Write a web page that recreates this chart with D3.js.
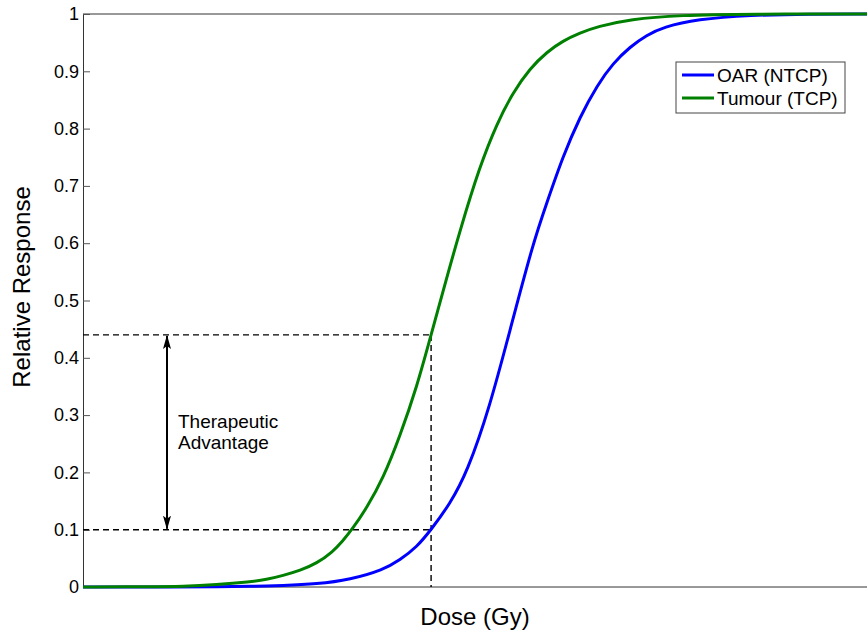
<!DOCTYPE html>
<html>
<head>
<meta charset="utf-8">
<script src="https://cdn.jsdelivr.net/npm/d3@7"></script>
<style>
  body { margin: 0; background: #fff; }
  text { font-family: "Liberation Sans", Arial, sans-serif; fill: #000; }
</style>
</head>
<body>
<svg id="chart"></svg>
<script>
// dose curves (arbitrary dose units 0..100)
const tcpDose = [0, 8.5, 12.8, 17.0, 21.3, 23.4, 25.5, 27.7, 29.8, 31.9, 33.1, 34.3, 36.2, 38.3, 40.4, 42.6, 44.4, 46.3, 48.1, 50.6, 52.8, 54.8, 57.0, 59.2, 61.2, 63.4, 65.6, 69.8, 76.1, 85.1, 100];
const tcpResp = [0, 0.0003, 0.001, 0.004, 0.009, 0.013, 0.02, 0.029, 0.041, 0.062, 0.08, 0.1, 0.138, 0.19, 0.262, 0.35, 0.44, 0.535, 0.623, 0.734, 0.809, 0.862, 0.905, 0.934, 0.953, 0.967, 0.978, 0.991, 0.998, 1, 1];

const ntcpDose = [0, 12.8, 17.0, 21.3, 25.5, 29.8, 34.1, 38.3, 40.4, 42.6, 44.4, 46.8, 49.0, 51.9, 54.5, 57.4, 59.2, 61.2, 63.4, 65.6, 67.6, 69.8, 71.9, 74.0, 78.3, 85.1, 92.7, 100];
const ntcpResp = [0, 0.0002, 0.0005, 0.0012, 0.0025, 0.005, 0.013, 0.03, 0.047, 0.07, 0.1, 0.145, 0.2, 0.315, 0.45, 0.6, 0.672, 0.751, 0.821, 0.876, 0.914, 0.943, 0.963, 0.977, 0.991, 0.998, 1, 1];

const seriesNames = ["OAR (NTCP)", "Tumour (TCP)"];
const seriesColors = ["#0000ff", "#008000"];

const yTicks = [0, 0.1, 0.2, 0.3, 0.4, 0.5, 0.6, 0.7, 0.8, 0.9, 1];

// the chosen dose and the responses it gives
const markDose = 44.4;
const markTcp = 0.44;
const markNtcp = 0.1;

const W = 867, H = 634;
const margin = {top: 14, right: 0, bottom: 47, left: 83};

const svg = d3.select("#chart").attr("width", W).attr("height", H);

const x = d3.scaleLinear().domain([0, 100]).range([margin.left, W - margin.right]);
const y = d3.scaleLinear().domain([0, 1]).range([H - margin.bottom, margin.top]);

// frame: top line, left and bottom axes
svg.append("line")
  .attr("x1", x(0)).attr("x2", x(100))
  .attr("y1", y(1)).attr("y2", y(1))
  .attr("stroke", "#333").attr("stroke-width", 1);

const yAxis = svg.append("g")
  .attr("transform", `translate(${x(0)},0)`)
  .call(d3.axisLeft(y).tickValues(yTicks).tickSize(-7).tickPadding(4)
        .tickFormat(d => d3.format("~g")(d)));
yAxis.select(".domain").attr("stroke", "#333");
yAxis.selectAll(".tick line").attr("stroke", "#555");
yAxis.selectAll(".tick text")
  .style("font-size", "18px")
  .style("font-family", "Liberation Sans, Arial, sans-serif")
  .attr("fill", "#000");

svg.append("line")
  .attr("x1", x(0)).attr("x2", x(100))
  .attr("y1", y(0)).attr("y2", y(0))
  .attr("stroke", "#333").attr("stroke-width", 1);

// dashed guide lines
const dash = "6,4";
const guides = [
  [[0, markTcp], [markDose, markTcp]],
  [[0, markNtcp], [markDose, markNtcp]],
  [[markDose, markTcp], [markDose, 0]]
];
svg.selectAll(".guide").data(guides).enter().append("line")
  .attr("class", "guide")
  .attr("x1", d => x(d[0][0])).attr("y1", d => y(d[0][1]))
  .attr("x2", d => x(d[1][0])).attr("y2", d => y(d[1][1]))
  .attr("stroke", "#000").attr("stroke-width", 1.4)
  .attr("stroke-dasharray", dash);

// curves
const line = d3.line()
  .x(d => x(d[0]))
  .y(d => y(d[1]))
  .curve(d3.curveBasis);

const series = [
  d3.zip(ntcpDose, ntcpResp),
  d3.zip(tcpDose, tcpResp)
];
svg.selectAll(".curve").data(series).enter().append("path")
  .attr("class", "curve")
  .attr("d", line)
  .attr("fill", "none")
  .attr("stroke", (d, i) => seriesColors[i])
  .attr("stroke-width", 3);

// double headed arrow for therapeutic advantage
const defs = svg.append("defs");
defs.append("marker")
  .attr("id", "head")
  .attr("viewBox", "0 0 14 8")
  .attr("refX", 13).attr("refY", 4)
  .attr("markerWidth", 14).attr("markerHeight", 8)
  .attr("markerUnits", "userSpaceOnUse")
  .attr("orient", "auto-start-reverse")
  .append("path")
  .attr("d", "M0,0 L14,4 L0,8 L3,4 Z")
  .attr("fill", "#000");

const arrowX = 167;
svg.append("line")
  .attr("x1", arrowX).attr("x2", arrowX)
  .attr("y1", y(markTcp) + 1).attr("y2", y(markNtcp) - 1)
  .attr("stroke", "#000").attr("stroke-width", 2)
  .attr("marker-start", "url(#head)")
  .attr("marker-end", "url(#head)");

svg.append("text")
  .attr("x", 178).attr("y", 428)
  .style("font-size", "19px")
  .text("Therapeutic");
svg.append("text")
  .attr("x", 178).attr("y", 449)
  .style("font-size", "19px")
  .text("Advantage");

// axis titles
svg.append("text")
  .attr("x", 475).attr("y", 625)
  .attr("text-anchor", "middle")
  .style("font-size", "24px")
  .text("Dose (Gy)");

svg.append("text")
  .attr("transform", `translate(30,287) rotate(-90)`)
  .attr("text-anchor", "middle")
  .style("font-size", "24px")
  .text("Relative Response");

// legend
const lg = svg.append("g").attr("transform", "translate(676,62)");
lg.append("rect")
  .attr("width", 169).attr("height", 51)
  .attr("fill", "#fff").attr("stroke", "#444").attr("stroke-width", 1);
const items = lg.selectAll(".item").data(seriesNames).enter().append("g")
  .attr("class", "item")
  .attr("transform", (d, i) => `translate(0,${13 + i * 23})`);
items.append("line")
  .attr("x1", 6).attr("x2", 38)
  .attr("stroke", (d, i) => seriesColors[i])
  .attr("stroke-width", 3);
items.append("text")
  .attr("x", 41).attr("y", 7)
  .style("font-size", "19px")
  .text(d => d);
</script>
</body>
</html>
